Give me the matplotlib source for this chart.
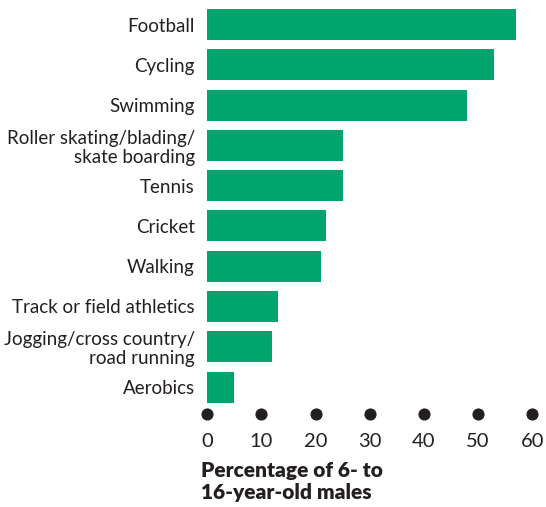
import matplotlib.pyplot as plt

plt.rcParams['font.family'] = ['Lato', 'DejaVu Sans']

# Participation data
sports = ['Football', 'Cycling', 'Swimming', 'Roller skating/blading/\nskate boarding',
          'Tennis', 'Cricket', 'Walking', 'Track or field athletics',
          'Jogging/cross country/\nroad running', 'Aerobics']
percent = [57, 53, 48, 25, 25, 22, 21, 13, 12, 5]
ticks = [0, 10, 20, 30, 40, 50, 60]

bar_color = '#00A56D'
text_color = '#231F20'

W, H = 546, 507
fig = plt.figure(figsize=(W / 100, H / 100), dpi=100)
ax = fig.add_axes([207.3 / W, 1 - 414 / H, 325 / W, 414 / H])

ypos = list(range(len(sports)))[::-1]
ax.barh(ypos, percent, height=0.77, color=bar_color, edgecolor='none')

ax.set_xlim(0, 60)
ax.set_ylim(-0.67, 9.61)

# dot markers instead of an axis line
ax.scatter(ticks, [0] * len(ticks), s=60, color=text_color,
           transform=ax.get_xaxis_transform(), clip_on=False, zorder=3)
ax.set_xticks(ticks)
ax.set_xticklabels([str(t) for t in ticks], fontsize=14.5, color=text_color)
ax.tick_params(axis='x', length=0, pad=14)

ax.set_yticks(ypos)
ax.set_yticklabels(sports, fontsize=13.5, color=text_color, linespacing=1.12)
ax.tick_params(axis='y', length=0, pad=9)

for s in ax.spines.values():
    s.set_visible(False)

fig.text(201 / W, 1 - 461 / H, 'Percentage of 6- to\n16-year-old males',
         fontsize=15, fontweight='heavy', color=text_color,
         ha='left', va='top', linespacing=1.18)

fig.savefig('out.png', dpi=100, facecolor='white')
